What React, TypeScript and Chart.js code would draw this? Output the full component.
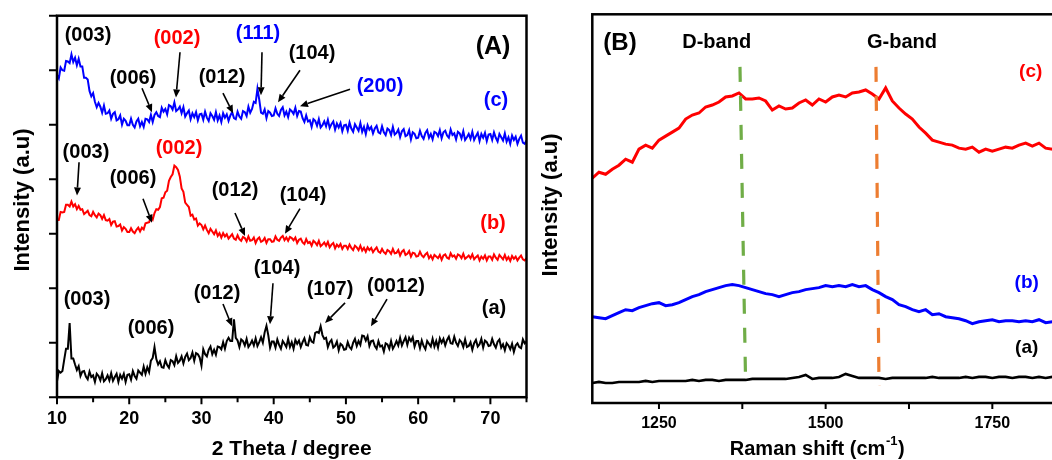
import React, { useEffect, useRef } from "react";
import { Chart, registerables } from "chart.js";

Chart.register(...registerables);

const FONT = '"Liberation Sans", Arial, Helvetica, sans-serif';
const BLACK = "#000000";
const RED = "#ff0000";
const BLUE = "#0000ff";
const GREEN = "#70ad47";
const ORANGE = "#ed7d31";

// ---------------- Panel A : XRD (2 theta from 10 to 75, step 0.25) ----------------
const XRD_START = 10;
const XRD_STEP = 0.25;

// (c) blue
const xrdC = [
  5.91, 5.85, 6.05, 6.00, 5.99, 6.17, 6.16, 6.13, 6.29, 6.15, 6.23, 6.09, 6.21, 6.07, 6.07, 5.86, 5.86, 5.83, 5.62, 5.52,
  5.58, 5.42, 5.32, 5.40, 5.33, 5.22, 5.35, 5.20, 5.21, 5.26, 5.11, 5.20, 5.23, 5.08, 5.10, 5.17, 5.00, 5.11, 5.07, 4.99,
  4.99, 5.11, 5.00, 4.95, 5.06, 5.11, 4.97, 5.05, 4.96, 5.11, 5.10, 5.05, 5.18, 5.05, 5.18, 5.23, 5.16, 5.14, 5.31, 5.24,
  5.29, 5.19, 5.36, 5.34, 5.28, 5.41, 5.25, 5.28, 5.33, 5.21, 5.32, 5.15, 5.21, 5.26, 5.10, 5.21, 5.14, 5.23, 5.08, 5.19,
  5.20, 5.09, 5.24, 5.13, 5.07, 5.21, 5.16, 5.09, 5.23, 5.08, 5.17, 5.05, 5.21, 5.13, 5.19, 5.07, 5.17, 5.23, 5.12, 5.10,
  5.24, 5.15, 5.11, 5.25, 5.23, 5.16, 5.33, 5.22, 5.29, 5.42, 5.40, 5.66, 5.46, 5.22, 5.20, 5.28, 5.12, 5.25, 5.22, 5.16,
  5.17, 5.30, 5.20, 5.16, 5.27, 5.32, 5.17, 5.24, 5.14, 5.28, 5.25, 5.20, 5.31, 5.16, 5.25, 5.24, 5.12, 5.05, 5.17, 5.06,
  5.08, 4.96, 5.10, 5.07, 4.98, 5.10, 4.95, 4.99, 5.06, 4.97, 5.09, 4.94, 5.01, 5.06, 4.91, 5.02, 4.95, 5.03, 4.88, 4.99,
  5.00, 4.89, 5.04, 4.93, 4.87, 5.01, 4.95, 4.89, 5.03, 4.87, 4.96, 4.83, 4.99, 4.91, 4.96, 4.84, 4.93, 4.98, 4.86, 4.84,
  4.97, 4.86, 4.81, 4.93, 4.90, 4.81, 4.96, 4.82, 4.85, 4.91, 4.77, 4.88, 4.92, 4.79, 4.81, 4.90, 4.73, 4.86, 4.83, 4.75,
  4.76, 4.89, 4.79, 4.74, 4.85, 4.90, 4.76, 4.83, 4.73, 4.87, 4.85, 4.79, 4.90, 4.75, 4.86, 4.89, 4.80, 4.76, 4.91, 4.81,
  4.84, 4.73, 4.87, 4.84, 4.75, 4.88, 4.72, 4.77, 4.83, 4.74, 4.87, 4.72, 4.79, 4.85, 4.70, 4.83, 4.76, 4.85, 4.70, 4.82,
  4.83, 4.72, 4.86, 4.76, 4.69, 4.83, 4.77, 4.71, 4.84, 4.69, 4.77, 4.65, 4.80, 4.72, 4.78, 4.65, 4.74, 4.80, 4.67, 4.65,
  4.71,
];

// (b) red
const xrdB = [
  3.25, 3.25, 3.40, 3.39, 3.40, 3.53, 3.53, 3.50, 3.59, 3.50, 3.54, 3.45, 3.51, 3.44, 3.45, 3.36, 3.39, 3.42, 3.34, 3.32,
  3.40, 3.34, 3.30, 3.37, 3.34, 3.27, 3.34, 3.25, 3.24, 3.27, 3.16, 3.22, 3.23, 3.13, 3.14, 3.17, 3.06, 3.12, 3.09, 3.03,
  3.03, 3.10, 3.04, 3.01, 3.07, 3.11, 3.04, 3.11, 3.08, 3.19, 3.20, 3.21, 3.31, 3.26, 3.38, 3.45, 3.44, 3.49, 3.65, 3.66,
  3.76, 3.79, 3.97, 4.04, 4.09, 4.25, 4.22, 4.17, 4.05, 3.83, 3.77, 3.57, 3.53, 3.49, 3.33, 3.35, 3.26, 3.28, 3.15, 3.19,
  3.16, 3.08, 3.15, 3.07, 3.01, 3.09, 3.04, 2.99, 3.06, 2.96, 3.01, 2.93, 3.01, 2.95, 2.99, 2.91, 2.95, 2.99, 2.91, 2.89,
  2.97, 2.90, 2.87, 2.94, 2.92, 2.86, 2.95, 2.87, 2.88, 2.93, 2.83, 2.90, 2.93, 2.85, 2.87, 2.92, 2.83, 2.90, 2.90, 2.85,
  2.86, 2.95, 2.89, 2.87, 2.93, 2.96, 2.88, 2.93, 2.87, 2.94, 2.92, 2.88, 2.93, 2.83, 2.89, 2.91, 2.84, 2.81, 2.90, 2.83,
  2.85, 2.78, 2.87, 2.84, 2.79, 2.87, 2.77, 2.80, 2.84, 2.78, 2.85, 2.75, 2.80, 2.83, 2.73, 2.80, 2.76, 2.81, 2.72, 2.78,
  2.78, 2.72, 2.80, 2.74, 2.70, 2.78, 2.75, 2.70, 2.78, 2.69, 2.74, 2.67, 2.75, 2.70, 2.74, 2.66, 2.71, 2.75, 2.67, 2.65,
  2.72, 2.66, 2.63, 2.70, 2.68, 2.63, 2.72, 2.64, 2.65, 2.70, 2.60, 2.67, 2.70, 2.61, 2.63, 2.68, 2.58, 2.65, 2.64, 2.58,
  2.59, 2.67, 2.60, 2.57, 2.62, 2.65, 2.55, 2.60, 2.53, 2.61, 2.58, 2.55, 2.61, 2.52, 2.60, 2.62, 2.56, 2.54, 2.64, 2.58,
  2.60, 2.54, 2.62, 2.60, 2.55, 2.63, 2.54, 2.57, 2.60, 2.55, 2.62, 2.53, 2.57, 2.60, 2.51, 2.58, 2.54, 2.60, 2.51, 2.58,
  2.58, 2.52, 2.62, 2.56, 2.52, 2.61, 2.57, 2.53, 2.61, 2.52, 2.57, 2.50, 2.59, 2.54, 2.58, 2.51, 2.56, 2.60, 2.53, 2.51,
  2.55,
];

// (a) black
const xrdA = [
  0.29, 0.48, 0.45, 0.48, 0.69, 0.89, 0.89, 1.36, 0.71, 0.71, 0.60, 0.50, 0.57, 0.39, 0.47, 0.48, 0.38, 0.33, 0.47, 0.37,
  0.40, 0.28, 0.43, 0.39, 0.31, 0.44, 0.29, 0.33, 0.40, 0.31, 0.44, 0.30, 0.37, 0.43, 0.28, 0.41, 0.34, 0.43, 0.28, 0.41,
  0.42, 0.32, 0.48, 0.39, 0.34, 0.49, 0.45, 0.41, 0.56, 0.43, 0.55, 0.46, 0.67, 0.72, 0.92, 0.70, 0.60, 0.66, 0.55, 0.54,
  0.68, 0.59, 0.54, 0.68, 0.66, 0.59, 0.75, 0.63, 0.67, 0.75, 0.62, 0.74, 0.80, 0.68, 0.72, 0.82, 0.67, 0.81, 0.79, 0.73,
  0.58, 0.88, 0.79, 0.75, 0.87, 0.93, 0.79, 0.87, 0.78, 0.93, 0.92, 0.88, 1.01, 0.89, 1.03, 1.09, 1.03, 1.03, 1.43, 1.09,
  1.04, 0.92, 1.06, 1.03, 0.95, 1.07, 0.92, 0.97, 1.04, 0.95, 1.08, 0.94, 1.01, 1.10, 1.00, 1.19, 1.31, 1.14, 0.91, 1.02,
  1.02, 0.91, 1.06, 0.96, 0.89, 1.03, 0.98, 0.92, 1.07, 0.92, 1.01, 0.89, 1.05, 0.98, 1.04, 0.92, 1.01, 1.08, 0.96, 0.95,
  1.10, 1.02, 1.00, 1.18, 1.20, 1.18, 1.30, 1.14, 1.07, 1.09, 0.92, 1.01, 1.05, 0.91, 0.94, 1.02, 0.86, 0.98, 0.95, 0.87,
  0.88, 1.01, 0.92, 0.88, 1.00, 1.07, 0.94, 1.03, 0.96, 1.13, 1.12, 1.04, 1.12, 0.94, 1.03, 1.04, 0.94, 0.89, 1.03, 0.93,
  0.95, 0.84, 0.99, 0.97, 0.89, 1.03, 0.89, 0.95, 1.03, 0.95, 1.09, 0.95, 1.03, 1.10, 0.96, 1.09, 1.03, 1.10, 0.93, 1.03,
  1.03, 0.90, 1.04, 0.94, 0.88, 1.03, 0.98, 0.93, 1.07, 0.93, 1.03, 0.91, 1.08, 1.00, 1.07, 0.95, 1.05, 1.11, 0.99, 0.98,
  1.11, 1.00, 0.94, 1.05, 1.01, 0.92, 1.06, 0.92, 0.94, 1.01, 0.87, 0.99, 1.05, 0.93, 0.97, 1.07, 0.91, 1.04, 1.01, 0.94,
  0.95, 1.07, 0.97, 0.91, 1.02, 1.06, 0.91, 0.97, 0.86, 0.99, 0.95, 0.88, 0.98, 0.83, 0.95, 0.99, 0.92, 0.90, 1.06, 0.99,
  1.02,
];

const xrdXTicks = [10, 20, 30, 40, 50, 60, 70];
const xrdXMinorTicks = [15, 25, 35, 45, 55, 65, 75];
const xrdYTicks = [0, 1, 2, 3, 4, 5, 6, 7];

// annotation labels (data coordinates), arrows [x1, y1, x2, y2]
const xrdNotes = [
  { t: "(003)", x: 14.29, y: 6.64, c: BLACK },
  { t: "(006)", x: 20.52, y: 5.85, c: BLACK, a: [21.77, 5.67, 23.15, 5.23] },
  { t: "(002)", x: 26.61, y: 6.59, c: RED, a: [27.03, 6.33, 26.47, 5.5] },
  { t: "(012)", x: 32.84, y: 5.87, c: BLACK, a: [32.98, 5.58, 34.37, 5.21] },
  { t: "(111)", x: 37.83, y: 6.68, c: BLUE, a: [38.38, 6.33, 38.24, 5.54] },
  { t: "(104)", x: 45.3, y: 6.31, c: BLACK, a: [43.64, 6.0, 40.6, 5.41] },
  { t: "(200)", x: 54.72, y: 5.7, c: BLUE, a: [50.57, 5.65, 43.64, 5.34] },
  { t: "(c)", x: 70.78, y: 5.45, c: BLUE },
  { t: "(003)", x: 14.01, y: 4.49, c: BLACK, a: [13.05, 4.31, 12.77, 3.7] },
  { t: "(002)", x: 26.89, y: 4.56, c: RED },
  { t: "(006)", x: 20.52, y: 4.01, c: BLACK, a: [21.91, 3.64, 23.15, 3.2] },
  { t: "(012)", x: 34.64, y: 3.79, c: BLACK, a: [34.64, 3.38, 36.03, 2.96] },
  { t: "(104)", x: 44.06, y: 3.7, c: BLACK, a: [43.64, 3.46, 41.56, 3.0] },
  { t: "(b)", x: 70.36, y: 3.18, c: RED },
  { t: "(003)", x: 14.15, y: 1.8, c: BLACK },
  { t: "(006)", x: 23.01, y: 1.27, c: BLACK },
  { t: "(012)", x: 32.15, y: 1.91, c: BLACK, a: [32.98, 1.71, 34.23, 1.3] },
  { t: "(104)", x: 40.46, y: 2.36, c: BLACK, a: [39.9, 2.09, 39.49, 1.34] },
  { t: "(107)", x: 47.8, y: 1.98, c: BLACK, a: [49.88, 1.73, 47.11, 1.36] },
  { t: "(0012)", x: 56.93, y: 2.04, c: BLACK, a: [55.69, 1.8, 53.47, 1.3] },
  { t: "(a)", x: 70.5, y: 1.63, c: BLACK },
];

// ---------------- Panel B : Raman (1150 to 1850, step 10) ----------------
const RAMAN_START = 1150;
const RAMAN_STEP = 10;

const ramanC = [
  224, 230, 228, 233, 237, 243, 240, 253, 257, 254, 262, 266, 270, 274, 283, 287, 289, 295, 297, 300,
  305, 306, 309, 303, 303, 304, 301, 292, 296, 293, 294, 299, 302, 297, 303, 300, 305, 307, 305, 309,
  310, 312, 308, 303, 314, 301, 294, 288, 283, 275, 269, 262, 260, 258, 257, 254, 253, 255, 250, 253,
  251, 253, 255, 254, 257, 259, 256, 259, 254, 253, 256,
];
const ramanB = [
  86, 85, 84, 87, 90, 93, 92, 95, 97, 99, 100, 97, 98, 100, 103, 106, 108, 111, 113, 115,
  117, 118, 117, 115, 113, 111, 109, 108, 106, 108, 110, 111, 113, 114, 115, 117, 116, 117, 116, 118,
  116, 117, 113, 110, 106, 103, 98, 96, 93, 91, 93, 88, 89, 86, 85, 84, 82, 79, 81, 82,
  83, 81, 82, 82, 81, 82, 81, 83, 80, 81, 82,
];
const ramanA = [
  20, 21, 20, 20, 21, 21, 21, 21, 22, 21, 22, 22, 22, 22, 22, 23, 22, 23, 23, 22,
  23, 23, 23, 23, 24, 24, 24, 24, 24, 24, 25, 26, 28, 24, 25, 25, 25, 26, 29, 27,
  25, 25, 25, 25, 24, 25, 25, 25, 25, 25, 25, 26, 25, 25, 25, 25, 26, 25, 26, 26,
  25, 26, 26, 25, 26, 26, 25, 26, 25, 26, 26,
];

const dBandX = [1371.5, 1380];
const dBandY = [335, 18];
const gBandX = [1575.5, 1580];
const gBandY = [335, 17];

const ramanXTicks = [1250, 1500, 1750];
const ramanXAllTicks = [1250, 1375, 1500, 1625, 1750];

const ramanNotes = [
  { t: "(B)", x: 1191.5, y: 358.4, c: BLACK, s: 24 },
  { t: "D-band", x: 1336.6, y: 359, c: BLACK, s: 20 },
  { t: "G-band", x: 1614.5, y: 359, c: BLACK, s: 20 },
  { t: "(c)", x: 1807.6, y: 330, c: RED, s: 19 },
  { t: "(b)", x: 1801.6, y: 120, c: BLUE, s: 19 },
  { t: "(a)", x: 1801.6, y: 55, c: BLACK, s: 19 },
];

// ---------------- helpers ----------------
const gridSeries = (start: number, step: number, ys: number[]) =>
  ys.map((y, i) => ({ x: start + step * i, y }));
const pairSeries = (xs: number[], ys: number[]) => xs.map((x, i) => ({ x, y: ys[i] }));

function drawArrow(ctx: CanvasRenderingContext2D, x1: number, y1: number, x2: number, y2: number) {
  const ang = Math.atan2(y2 - y1, x2 - x1);
  const hl = 8;
  const hw = 3.5;
  const bx = x2 - hl * Math.cos(ang);
  const by = y2 - hl * Math.sin(ang);
  ctx.beginPath();
  ctx.moveTo(x1, y1);
  ctx.lineTo(bx, by);
  ctx.lineWidth = 1.6;
  ctx.strokeStyle = BLACK;
  ctx.stroke();
  ctx.beginPath();
  ctx.moveTo(x2, y2);
  ctx.lineTo(bx + hw * Math.sin(ang), by - hw * Math.cos(ang));
  ctx.lineTo(bx - hw * Math.sin(ang), by + hw * Math.cos(ang));
  ctx.closePath();
  ctx.fillStyle = BLACK;
  ctx.fill();
}

const xrdPlugin = {
  id: "xrdDecor",
  afterDraw(chart: any) {
    const { ctx, chartArea: ca } = chart;
    const xs = chart.scales.x;
    const ys = chart.scales.y;
    ctx.save();
    ctx.strokeStyle = BLACK;
    ctx.lineWidth = 2.5;
    ctx.strokeRect(ca.left, ca.top, ca.right - ca.left, ca.bottom - ca.top);
    ctx.lineWidth = 2;
    ctx.beginPath();
    xrdYTicks.forEach((v) => {
      const p = ys.getPixelForValue(v);
      ctx.moveTo(ca.left, p);
      ctx.lineTo(ca.left - 8, p);
    });
    xrdXTicks.forEach((v) => {
      const p = xs.getPixelForValue(v);
      ctx.moveTo(p, ca.bottom);
      ctx.lineTo(p, ca.bottom + 7);
    });
    xrdXMinorTicks.forEach((v) => {
      const p = xs.getPixelForValue(v);
      ctx.moveTo(p, ca.bottom);
      ctx.lineTo(p, ca.bottom + 5);
    });
    ctx.stroke();

    // annotations
    ctx.textAlign = "center";
    ctx.textBaseline = "middle";
    xrdNotes.forEach((n: any) => {
      if (n.a) {
        drawArrow(
          ctx,
          xs.getPixelForValue(n.a[0]),
          ys.getPixelForValue(n.a[1]),
          xs.getPixelForValue(n.a[2]),
          ys.getPixelForValue(n.a[3])
        );
      }
      ctx.font = `bold 20px ${FONT}`;
      ctx.fillStyle = n.c;
      ctx.fillText(n.t, xs.getPixelForValue(n.x), ys.getPixelForValue(n.y));
    });
    ctx.font = `bold 25px ${FONT}`;
    ctx.fillStyle = BLACK;
    ctx.fillText("(A)", xs.getPixelForValue(70.36), ys.getPixelForValue(6.42));

    // axis titles
    ctx.font = `bold 21px ${FONT}`;
    ctx.fillText("2 Theta / degree", (ca.left + ca.right) / 2, 449);
    ctx.translate(23, 200);
    ctx.rotate(-Math.PI / 2);
    ctx.font = `bold 22px ${FONT}`;
    ctx.fillText("Intensity (a.u)", 0, 0);
    ctx.restore();
  },
};

const ramanPlugin = {
  id: "ramanDecor",
  afterDraw(chart: any) {
    const { ctx, chartArea: ca } = chart;
    const xs = chart.scales.x;
    const ys = chart.scales.y;
    ctx.save();
    ctx.strokeStyle = BLACK;
    ctx.lineWidth = 2.5;
    ctx.strokeRect(ca.left, ca.top, ca.right - ca.left, ca.bottom - ca.top);
    ctx.lineWidth = 2;
    ctx.beginPath();
    ramanXAllTicks.forEach((v) => {
      const p = xs.getPixelForValue(v);
      ctx.moveTo(p, ca.bottom);
      ctx.lineTo(p, ca.bottom + 6);
    });
    ctx.stroke();

    ctx.textAlign = "center";
    ctx.textBaseline = "middle";
    ramanNotes.forEach((n) => {
      ctx.font = `bold ${n.s}px ${FONT}`;
      ctx.fillStyle = n.c;
      ctx.fillText(n.t, xs.getPixelForValue(n.x), ys.getPixelForValue(n.y));
    });

    // x title with superscript
    ctx.fillStyle = BLACK;
    const main = "Raman shift (cm";
    const sup = "-1";
    const end = ")";
    ctx.font = `bold 20px ${FONT}`;
    const w1 = ctx.measureText(main).width;
    const w3 = ctx.measureText(end).width;
    ctx.font = `bold 13px ${FONT}`;
    const w2 = ctx.measureText(sup).width;
    const x0 = 276.7 - (w1 + w2 + w3) / 2;
    ctx.textAlign = "left";
    ctx.font = `bold 20px ${FONT}`;
    ctx.fillText(main, x0, 449);
    ctx.font = `bold 13px ${FONT}`;
    ctx.fillText(sup, x0 + w1 + 0.5, 441);
    ctx.font = `bold 20px ${FONT}`;
    ctx.fillText(end, x0 + w1 + w2 + 1, 449);

    ctx.textAlign = "center";
    ctx.translate(11, 205);
    ctx.rotate(-Math.PI / 2);
    ctx.font = `bold 22px ${FONT}`;
    ctx.fillText("Intensity (a.u)", 0, 0);
    ctx.restore();
  },
};

function makeXrdConfig(): any {
  const ds = (data: number[], color: string) => ({
    data: gridSeries(XRD_START, XRD_STEP, data),
    borderColor: color,
    borderWidth: 2,
    pointRadius: 0,
    tension: 0,
    fill: false,
  });
  return {
    type: "line",
    data: { datasets: [ds(xrdC, BLUE), ds(xrdB, RED), ds(xrdA, BLACK)] },
    options: {
      animation: false,
      responsive: false,
      devicePixelRatio: 1,
      layout: { padding: { left: 57, right: 13.5, top: 15.7, bottom: 18.8 } },
      plugins: { legend: { display: false }, tooltip: { enabled: false } },
      scales: {
        x: {
          type: "linear",
          min: 10,
          max: 75,
          afterBuildTicks: (s: any) => {
            s.ticks = xrdXTicks.map((v) => ({ value: v }));
          },
          grid: { display: false, drawTicks: false },
          border: { display: false },
          ticks: {
            padding: 11.2,
            color: BLACK,
            font: { family: FONT, size: 18, weight: "bold" },
            callback: (v: any) => String(v),
            maxRotation: 0,
            autoSkip: false,
          },
        },
        y: { type: "linear", min: 0, max: 7, display: false },
      },
    },
    plugins: [xrdPlugin],
  };
}

function makeRamanConfig(): any {
  const ds = (data: number[], color: string, w: number) => ({
    data: gridSeries(RAMAN_START, RAMAN_STEP, data),
    borderColor: color,
    borderWidth: w,
    pointRadius: 0,
    tension: 0,
    fill: false,
    order: 1,
  });
  const dash = (xs: number[], ys: number[], color: string) => ({
    data: pairSeries(xs, ys),
    borderColor: color,
    borderWidth: 3.2,
    borderDash: [15, 14],
    pointRadius: 0,
    fill: false,
    order: 0,
  });
  return {
    type: "line",
    data: {
      datasets: [
        ds(ramanC, RED, 3),
        ds(ramanB, BLUE, 3),
        ds(ramanA, BLACK, 2.6),
        dash(dBandX, dBandY, GREEN),
        dash(gBandX, gBandY, ORANGE),
      ],
    },
    options: {
      animation: false,
      responsive: false,
      devicePixelRatio: 1,
      layout: { padding: { left: 52.3, right: 21, top: 14.3, bottom: 15 } },
      plugins: { legend: { display: false }, tooltip: { enabled: false } },
      scales: {
        x: {
          type: "linear",
          min: 1150,
          max: 1850,
          afterBuildTicks: (s: any) => {
            s.ticks = ramanXTicks.map((v) => ({ value: v }));
          },
          grid: { display: false, drawTicks: false },
          border: { display: false },
          ticks: {
            padding: 11.4,
            color: BLACK,
            font: { family: FONT, size: 16, weight: "bold" },
            callback: (v: any) => String(v),
            maxRotation: 0,
            autoSkip: false,
          },
        },
        y: { type: "linear", min: 0, max: 387.4, display: false },
      },
    },
    plugins: [ramanPlugin],
  };
}

function ChartCanvas({ make, left }: { make: () => any; left: number }) {
  const ref = useRef<HTMLCanvasElement>(null);
  useEffect(() => {
    const chart = new Chart(ref.current as HTMLCanvasElement, make());
    return () => chart.destroy();
  }, []);
  return (
    <canvas
      ref={ref}
      width={540}
      height={460}
      style={{ position: "absolute", left, top: 0, width: 540, height: 460 }}
    />
  );
}

export default function App() {
  return (
    <div
      style={{
        position: "fixed",
        left: 0,
        top: 0,
        width: 1052,
        height: 460,
        overflow: "hidden",
        background: "#ffffff",
      }}
    >
      <ChartCanvas make={makeXrdConfig} left={0} />
      <ChartCanvas make={makeRamanConfig} left={540} />
    </div>
  );
}
